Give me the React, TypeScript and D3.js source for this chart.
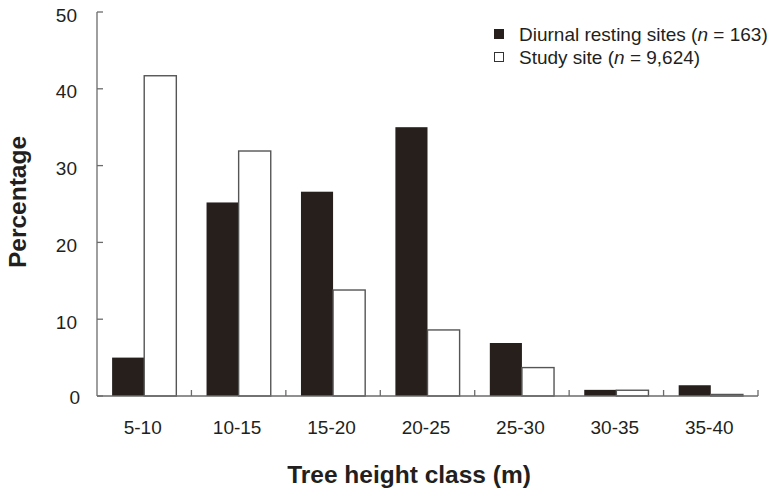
import React from "react";
import * as d3 from "d3";

const categories = ["5-10", "10-15", "15-20", "20-25", "25-30", "30-35", "35-40"];
const restingSites = [5.0, 25.2, 26.6, 35.0, 6.9, 0.8, 1.4];
const studySite = [41.7, 31.9, 13.8, 8.6, 3.7, 0.75, 0.2];
const seriesNames = ["resting", "study"];
const legendLabels = ["Diurnal resting sites (", "Study site ("];
const legendCounts = ["163", "9,624"];
const yTicks = [0, 10, 20, 30, 40, 50];

const width = 775;
const height = 493;
const margin = { top: 12, right: 17, bottom: 97, left: 97 };
const font = "Arial, 'Liberation Sans', sans-serif";
const dark = "#261f1c";
const axisColor = "#6b6b6b";

const App = () => {
  const x = d3
    .scaleBand()
    .domain(categories)
    .range([margin.left, width - margin.right])
    .paddingInner(0.32)
    .paddingOuter(0.16);
  const xInner = d3.scaleBand().domain(seriesNames).range([0, x.bandwidth()]);
  const y = d3
    .scaleLinear()
    .domain([0, 50])
    .range([height - margin.bottom, margin.top]);

  const y0 = y(0);
  const step = x.step();

  return (
    <svg
      width={width}
      height={height}
      style={{ position: "absolute", left: 0, top: 0, background: "#fff" }}
      fontFamily={font}
    >
      {/* bars */}
      {categories.map((c, i) => (
        <g key={c}>
          <rect
            x={(x(c) as number) + (xInner("resting") as number)}
            y={y(restingSites[i])}
            width={xInner.bandwidth()}
            height={y0 - y(restingSites[i])}
            fill={dark}
          />
          <rect
            x={(x(c) as number) + (xInner("study") as number)}
            y={y(studySite[i])}
            width={xInner.bandwidth()}
            height={y0 - y(studySite[i])}
            fill="#fff"
            stroke="#555"
            strokeWidth={1.4}
          />
        </g>
      ))}

      {/* y axis */}
      <line x1={margin.left} x2={margin.left} y1={y(50)} y2={y0} stroke={axisColor} strokeWidth={1.3} />
      {yTicks.map((t) => (
        <g key={t}>
          <line x1={margin.left} x2={margin.left + 6} y1={y(t)} y2={y(t)} stroke={axisColor} strokeWidth={1.3} />
          <text
            x={t === 0 ? 80 : 77}
            y={y(t) + (t === 0 ? 1 : 3)}
            textAnchor="end"
            dominantBaseline="central"
            fontSize={19}
            fill="#231f20"
          >
            {t}
          </text>
        </g>
      ))}

      {/* x axis */}
      <line x1={margin.left} x2={width - margin.right} y1={y0} y2={y0} stroke={axisColor} strokeWidth={1.3} />
      {categories.map((c, i) => (
        <g key={c}>
          <line
            x1={margin.left + step * (i + 1)}
            x2={margin.left + step * (i + 1)}
            y1={y0}
            y2={y0 - 6}
            stroke={axisColor}
            strokeWidth={1.3}
          />
          <text
            x={(x(c) as number) + x.bandwidth() / 2 - 1.5}
            y={427}
            textAnchor="middle"
            dominantBaseline="central"
            fontSize={19}
            fill="#231f20"
          >
            {c}
          </text>
        </g>
      ))}

      {/* axis titles */}
      <text x={409} y={483} textAnchor="middle" fontSize={24.5} fontWeight="bold" fill="#231f20">
        Tree height class (m)
      </text>
      <text
        transform={`translate(26,202) rotate(-90)`}
        textAnchor="middle"
        fontSize={24.5}
        fontWeight="bold"
        fill="#231f20"
      >
        Percentage
      </text>

      {/* legend */}
      {seriesNames.map((s, i) => (
        <g key={s} transform={`translate(494,${29 + i * 23})`}>
          <rect
            x={0.5}
            y={0.5}
            width={9}
            height={9}
            fill={i === 0 ? dark : "#fff"}
            stroke={i === 0 ? dark : "#333"}
            strokeWidth={1}
          />
          <text x={25} y={12} fontSize={19} fill="#231f20">
            {legendLabels[i]}
            <tspan fontStyle="italic">n</tspan>
            {` = ${legendCounts[i]})`}
          </text>
        </g>
      ))}
    </svg>
  );
};

export default App;
